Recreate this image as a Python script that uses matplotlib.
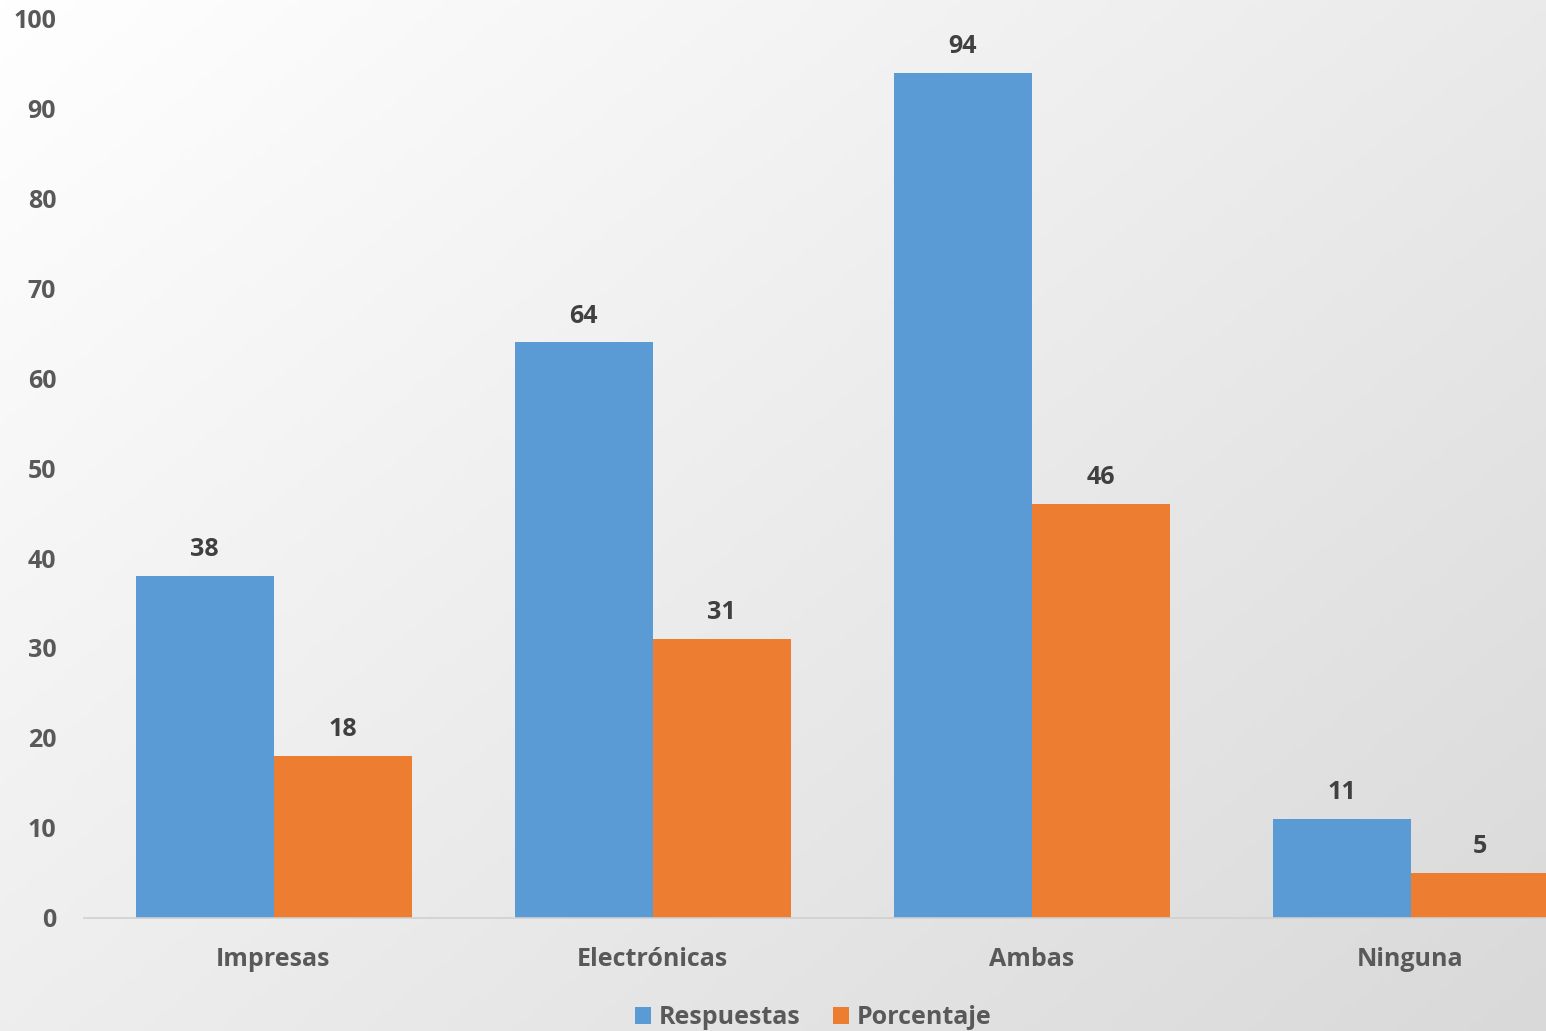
import numpy as np
import matplotlib.pyplot as plt

plt.rcParams['font.family'] = ['Open Sans', 'DejaVu Sans']

categorias = ["Impresas", "Electrónicas", "Ambas", "Ninguna"]
respuestas = [38, 64, 94, 11]
porcentaje = [18, 31, 46, 5]

azul = "#5B9BD5"
naranja = "#ED7D31"
gris_texto = "#595959"

fig = plt.figure(figsize=(15.46, 10.31), dpi=100)

# fondo con degradado diagonal (blanco arriba a la izquierda, gris abajo a la derecha)
bg = fig.add_axes([0, 0, 1, 1], zorder=-10)
yy, xx = np.mgrid[0:1:200j, 0:1:300j]
grad = 255 - 38 * (0.55 * xx + 0.45 * yy)
bg.imshow(np.dstack([grad, grad, grad]).astype(np.uint8), aspect="auto",
          extent=[0, 1, 0, 1], origin="upper")
bg.axis("off")

ax = fig.add_axes([84 / 1546, (1031 - 917.5) / 1031, (1546 - 84) / 1546, 898.5 / 1031])
ax.patch.set_alpha(0)

x = np.arange(len(categorias))
w = 138 / 379
b1 = ax.bar(x - w / 2, respuestas, w, color=azul, label="Respuestas")
b2 = ax.bar(x + w / 2, porcentaje, w, color=naranja, label="Porcentaje")

for barras in (b1, b2):
    for r in barras:
        ax.annotate(f"{r.get_height():.0f}", (r.get_x() + r.get_width() / 2, r.get_height()),
                    xytext=(0, 10), textcoords="offset points", ha="center", va="bottom",
                    fontsize=18, fontweight="bold", color="#404040")

ax.set_xlim(-0.5, -0.5 + 1462 / 379)
ax.set_ylim(0, 100)
ax.set_yticks(range(0, 101, 10))
ax.set_xticks(x)
ax.set_xticklabels(categorias)
ax.tick_params(axis="both", length=0, labelsize=18, labelcolor=gris_texto)
ax.tick_params(axis="y", pad=20)
ax.tick_params(axis="x", pad=21)
for lbl in ax.get_xticklabels() + ax.get_yticklabels():
    lbl.set_fontweight("bold")

for s in ["top", "right", "left"]:
    ax.spines[s].set_visible(False)
ax.spines["bottom"].set_color("#D0D0D0")
ax.spines["bottom"].set_linewidth(1.2)

leg = fig.legend(loc="center", bbox_to_anchor=(813 / 1546, 13 / 1031), ncol=2,
                 frameon=False, fontsize=18, handlelength=0.65, handleheight=0.65,
                 handletextpad=0.3, columnspacing=1.3)
for t in leg.get_texts():
    t.set_fontweight("bold")
    t.set_color(gris_texto)

fig.savefig("out.png", dpi=100)
